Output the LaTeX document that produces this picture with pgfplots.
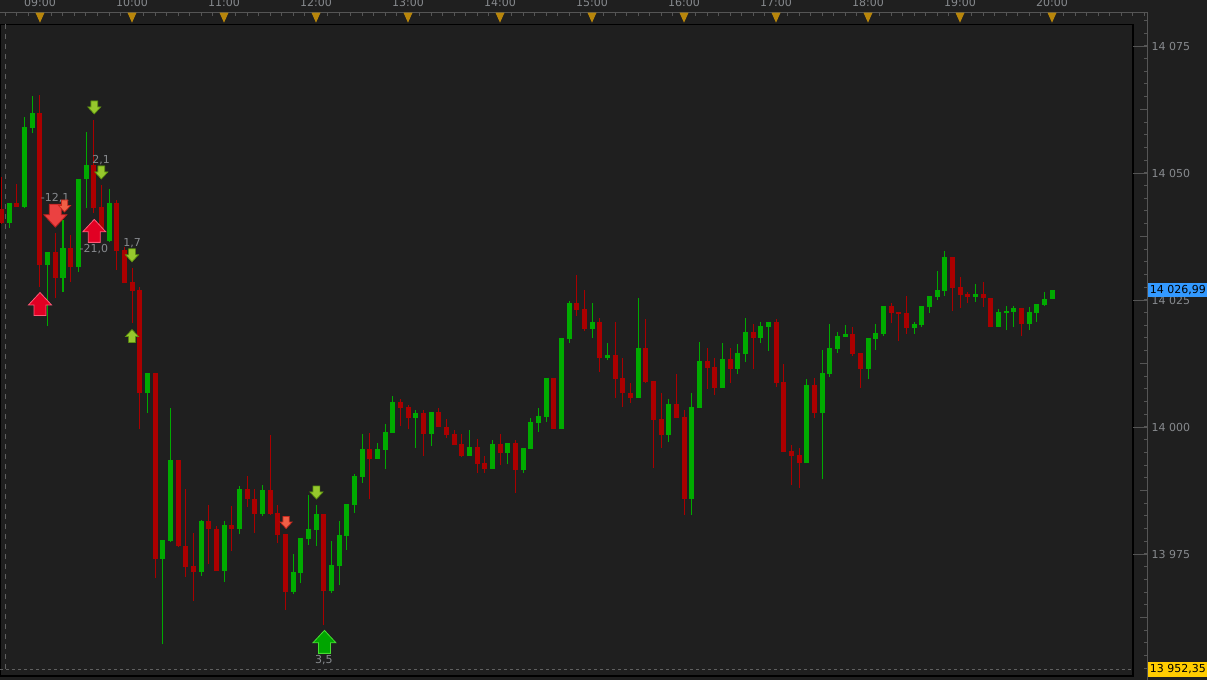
\documentclass[border=0pt]{standalone}
\usepackage{fontspec}
\setmainfont{DejaVu Sans}
\usepackage{pgfplots}
\usepackage{pgfplotstable}
\pgfplotsset{compat=1.18}
\definecolor{bg}{RGB}{31,31,31}
\definecolor{gcol}{RGB}{0,170,0}
\definecolor{rcol}{RGB}{170,0,0}
\definecolor{axgray}{RGB}{85,85,85}
\definecolor{dashgray}{RGB}{95,95,95}
\definecolor{lblgray}{RGB}{135,138,142}
\definecolor{tri}{RGB}{184,134,11}
\definecolor{pblue}{RGB}{51,153,255}
\definecolor{pyellow}{RGB}{255,204,0}
\definecolor{redUp}{RGB}{225,0,35}
\definecolor{redUpE}{RGB}{255,90,120}
\definecolor{redDn}{RGB}{235,65,65}
\definecolor{redDnE}{RGB}{190,30,30}
\definecolor{orA}{RGB}{240,95,70}
\definecolor{orAE}{RGB}{200,40,30}
\definecolor{lime}{RGB}{150,200,45}
\definecolor{limeE}{RGB}{95,150,15}
\definecolor{bigG}{RGB}{0,165,0}
\definecolor{bigGE}{RGB}{70,220,50}

\pgfdeclareplotmark{adown}{%
  \pgfpathmoveto{\pgfqpoint{-0.52\pgfplotmarksize}{\pgfplotmarksize}}%
  \pgfpathlineto{\pgfqpoint{0.52\pgfplotmarksize}{\pgfplotmarksize}}%
  \pgfpathlineto{\pgfqpoint{0.52\pgfplotmarksize}{0.08\pgfplotmarksize}}%
  \pgfpathlineto{\pgfqpoint{\pgfplotmarksize}{0.08\pgfplotmarksize}}%
  \pgfpathlineto{\pgfqpoint{0pt}{-\pgfplotmarksize}}%
  \pgfpathlineto{\pgfqpoint{-\pgfplotmarksize}{0.08\pgfplotmarksize}}%
  \pgfpathlineto{\pgfqpoint{-0.52\pgfplotmarksize}{0.08\pgfplotmarksize}}%
  \pgfpathclose
  \pgfusepathqfillstroke}
\pgfdeclareplotmark{aup}{%
  \pgfpathmoveto{\pgfqpoint{-0.52\pgfplotmarksize}{-\pgfplotmarksize}}%
  \pgfpathlineto{\pgfqpoint{0.52\pgfplotmarksize}{-\pgfplotmarksize}}%
  \pgfpathlineto{\pgfqpoint{0.52\pgfplotmarksize}{-0.08\pgfplotmarksize}}%
  \pgfpathlineto{\pgfqpoint{\pgfplotmarksize}{-0.08\pgfplotmarksize}}%
  \pgfpathlineto{\pgfqpoint{0pt}{\pgfplotmarksize}}%
  \pgfpathlineto{\pgfqpoint{-\pgfplotmarksize}{-0.08\pgfplotmarksize}}%
  \pgfpathlineto{\pgfqpoint{-0.52\pgfplotmarksize}{-0.08\pgfplotmarksize}}%
  \pgfpathclose
  \pgfusepathqfillstroke}
\pgfdeclareplotmark{tridown}{%
  \pgfpathmoveto{\pgfqpoint{-4.5pt}{5pt}}%
  \pgfpathlineto{\pgfqpoint{4.5pt}{5pt}}%
  \pgfpathlineto{\pgfqpoint{0pt}{-5pt}}%
  \pgfpathclose
  \pgfusepathqfill}

% k o h l c   (k = 5-minute bar index, 0 = 09:00)
\pgfplotstableread{
k o h l c
-4 14040.2 14044.0 14039.1 14044.0
-2 14043.4 14061.1 14043.1 14059.1
-1 14058.9 14065.2 14057.8 14061.8
1 14031.8 14034.4 14019.9 14034.4
3 14029.4 14040.7 14026.6 14035.2
5 14031.4 14048.8 14030.6 14048.8
6 14048.8 14058.1 14043.1 14051.6
9 14036.6 14046.9 14036.5 14044.0
14 14006.6 14010.6 14002.8 14010.6
16 13974.0 13977.8 13957.2 13977.8
17 13977.6 14003.7 13977.4 13993.5
21 13971.5 13981.7 13970.7 13981.5
24 13971.7 13981.5 13969.5 13980.7
26 13979.9 13988.4 13978.9 13987.8
29 13982.9 13988.6 13982.5 13987.6
33 13967.6 13975.0 13967.1 13971.5
34 13971.3 13978.1 13969.2 13978.1
35 13978.0 13986.6 13976.8 13979.9
36 13979.8 13984.6 13976.6 13982.9
38 13967.7 13977.6 13967.3 13972.8
39 13972.7 13981.5 13968.8 13978.7
40 13978.6 13984.8 13975.8 13984.8
41 13984.6 13990.7 13983.1 13990.4
42 13990.2 13998.6 13989.0 13995.7
44 13993.7 13996.8 13993.7 13995.7
45 13995.5 14000.6 13991.7 13999.0
46 13998.9 14006.0 13998.9 14004.9
49 14001.8 14003.3 13995.9 14002.8
51 13998.7 14003.0 13996.3 14003.0
56 13994.3 13999.4 13994.3 13996.1
59 13991.7 13997.4 13991.7 13996.7
61 13994.9 13996.9 13992.7 13996.9
63 13991.5 13995.9 13991.0 13995.9
64 13995.7 14001.8 13995.7 14001.0
65 14000.8 14003.7 13999.1 14002.2
66 14002.0 14009.6 14001.0 14009.6
68 13999.6 14017.5 13999.6 14017.5
69 14017.3 14024.8 14016.6 14024.4
72 14019.3 14024.4 14017.6 14020.7
74 14013.6 14016.5 14013.1 14014.2
78 14005.8 14025.3 14005.8 14015.6
82 13998.5 14005.5 13997.1 14004.5
85 13985.9 14006.6 13982.7 14003.9
86 14003.8 14016.7 14003.8 14013.0
89 14007.7 14016.5 14007.7 14013.4
91 14011.4 14016.3 14010.4 14014.6
92 14014.4 14021.4 14012.7 14018.7
94 14017.5 14020.7 14016.6 14019.9
95 14019.7 14020.7 14015.0 14020.7
100 13993.0 14009.4 13993.0 14008.3
102 14002.8 14015.2 13989.7 14010.6
103 14010.5 14020.3 14009.9 14015.6
104 14015.4 14018.6 14014.6 14017.9
105 14017.8 14020.1 14017.7 14018.3
108 14011.5 14017.5 14009.4 14017.5
109 14017.4 14020.3 14015.2 14018.5
110 14018.3 14023.8 14018.0 14023.8
114 14019.4 14020.7 14018.4 14020.3
115 14020.1 14023.8 14019.7 14023.8
116 14023.7 14025.8 14022.5 14025.8
117 14025.6 14030.7 14025.0 14027.0
118 14026.8 14034.6 14025.8 14033.5
122 14025.6 14028.1 14024.7 14026.2
125 14019.7 14023.2 14019.7 14022.6
126 14022.5 14023.8 14019.0 14022.9
127 14022.6 14023.8 14019.7 14023.4
129 14020.3 14023.6 14019.0 14022.6
130 14022.5 14024.2 14020.7 14024.2
131 14024.1 14026.6 14023.9 14025.2
132 14025.1 14027.0 14025.1 14026.99
}\greendata

\pgfplotstableread{
k o h l c
-5 14042.9 14049.3 14040.0 14040.1
-3 14044.0 14047.8 14043.4 14043.4
0 14061.8 14065.4 14027.6 14031.8
2 14034.4 14038.1 14025.3 14029.4
4 14035.2 14037.8 14028.6 14031.4
7 14051.6 14060.4 14042.1 14043.2
8 14043.4 14047.6 14038.4 14038.4
10 14044.0 14044.7 14030.9 14034.7
11 14034.8 14035.5 14028.4 14028.4
12 14028.5 14031.2 14020.4 14026.8
13 14027.0 14027.5 13999.7 14006.6
15 14010.6 14010.6 13970.2 13974.0
18 13993.5 13993.5 13976.4 13976.5
19 13976.5 13987.7 13970.5 13972.5
20 13972.6 13979.1 13965.8 13971.5
22 13981.5 13984.6 13973.0 13979.9
23 13979.9 13980.6 13971.7 13971.7
25 13980.7 13984.4 13975.5 13979.9
27 13987.8 13990.4 13984.3 13985.8
28 13985.8 13987.7 13979.1 13982.9
30 13987.6 13998.4 13982.7 13982.9
31 13983.0 13984.6 13977.1 13978.7
32 13978.9 13978.9 13964.0 13967.6
37 13982.9 13982.9 13961.0 13967.8
43 13995.7 13998.8 13985.8 13993.7
47 14004.9 14005.5 14000.1 14003.8
48 14003.9 14004.3 13999.7 14001.8
50 14002.8 14003.3 13994.3 13998.7
52 14003.0 14003.8 13999.9 13999.9
53 14000.0 14001.6 13997.9 13998.5
54 13998.6 13999.5 13996.5 13996.5
55 13996.7 13998.6 13994.0 13994.3
57 13996.1 13997.6 13991.0 13992.8
58 13992.9 13994.3 13991.0 13991.7
60 13996.7 13998.6 13992.5 13994.9
62 13996.9 13997.4 13987.1 13991.5
67 14009.6 14009.6 13999.6 13999.6
70 14024.4 14029.9 14021.9 14023.1
71 14023.2 14027.0 14018.8 14019.3
73 14020.7 14021.4 14010.9 14013.6
75 14014.1 14020.7 14005.8 14009.5
76 14009.6 14013.5 14004.0 14006.6
77 14006.7 14008.6 14004.8 14005.8
79 14015.6 14021.2 14008.7 14008.9
80 14009.1 14009.1 13992.0 14001.4
81 14001.6 14006.6 13995.9 13998.5
83 14004.5 14010.4 14001.8 14001.8
84 14002.0 14003.3 13982.7 13985.9
87 14013.0 14015.5 14007.5 14011.7
88 14011.8 14013.5 14006.3 14007.7
90 14013.4 14015.5 14008.7 14011.4
93 14018.7 14020.2 14011.4 14017.5
96 14020.7 14021.2 14007.9 14008.7
97 14008.9 14012.4 13995.1 13995.1
98 13995.3 13996.5 13988.6 13994.3
99 13994.5 13995.9 13988.0 13993.0
101 14008.3 14009.6 14001.7 14002.8
106 14018.3 14019.6 14014.0 14014.4
107 14014.6 14014.6 14007.7 14011.5
111 14023.8 14024.4 14020.5 14022.5
112 14022.6 14022.6 14017.0 14022.3
113 14022.4 14025.8 14018.4 14019.4
119 14033.5 14033.5 14022.9 14027.4
120 14027.6 14029.5 14023.5 14026.0
121 14026.2 14026.6 14024.5 14025.6
123 14026.2 14028.5 14023.7 14025.3
124 14025.4 14025.4 14019.7 14019.7
128 14023.4 14023.4 14018.0 14020.3
}\reddata

\tikzset{lbl/.style={font=\fontsize{11}{13}\selectfont, text=lblgray, inner sep=0pt}}
\pgfplotsset{candle/.style={draw=none, mark=none, forget plot,
  error bars/y dir=plus, error bars/y explicit, error bars/error mark=none}}

\begin{document}
\begin{tikzpicture}[x=1pt,y=1pt]
\useasboundingbox (0,0) rectangle (1207,680);
\clip (0,0) rectangle (1207,680);
\fill[bg] (0,0) rectangle (1207,680);

% ---------- main price panel ----------
\begin{axis}[
  at={(0pt,4pt)}, anchor=south west, scale only axis,
  width=1133pt, height=651.5pt,
  xmin=-5.217, xmax=142.56, ymin=13950.98, ymax=14079.23,
  xtick=\empty, ytick=\empty,
  axis line style={black, line width=1.2pt},
]
\addplot[dashgray, line width=1pt, dash pattern=on 5pt off 5pt, forget plot]
  coordinates {(-4.47,14079.23) (-4.47,13952.35)};
\addplot[dashgray, line width=1pt, dash pattern=on 3pt off 3pt, forget plot]
  coordinates {(-5.217,13952.35) (142.56,13952.35)};

% wicks
\addplot[candle, error bars/error bar style={draw=gcol, line width=1pt}]
  table[x=k, y=l, y error plus expr=\thisrow{h}-\thisrow{l}] {\greendata};
\addplot[candle, error bars/error bar style={draw=rcol, line width=1pt}]
  table[x=k, y=l, y error plus expr=\thisrow{h}-\thisrow{l}] {\reddata};
% bodies
\addplot[candle, error bars/error bar style={draw=gcol, line width=5pt}]
  table[x=k, y=o, y error plus expr=\thisrow{c}-\thisrow{o}] {\greendata};
\addplot[candle, error bars/error bar style={draw=rcol, line width=5pt}]
  table[x=k, y=c, y error plus expr=\thisrow{o}-\thisrow{c}] {\reddata};

% signal arrows
\addplot[only marks, mark=aup, mark size=11.5pt,
  mark options={fill=redUp, draw=redUpE, line width=0.8pt}]
  coordinates {(0,14024.2) (7.08,14038.6)};
\addplot[only marks, mark=adown, mark size=11.5pt,
  mark options={fill=redDn, draw=redDnE, line width=0.8pt}]
  coordinates {(2,14041.6)};
\addplot[only marks, mark=adown, mark size=6pt,
  mark options={fill=orA, draw=orAE, line width=0.7pt}]
  coordinates {(3.2,14043.5) (32.1,13981.2)};
\addplot[only marks, mark=adown, mark size=6.5pt,
  mark options={fill=lime, draw=limeE, line width=0.7pt}]
  coordinates {(7.08,14062.9) (8,14050.1) (12,14033.8) (36.06,13987.1)};
\addplot[only marks, mark=aup, mark size=6.5pt,
  mark options={fill=lime, draw=limeE, line width=0.7pt}]
  coordinates {(12,14017.9)};
\addplot[only marks, mark=aup, mark size=11.5pt,
  mark options={fill=bigG, draw=bigGE, line width=0.8pt}]
  coordinates {(37.1,13957.7)};

\node[lbl] at (axis cs:1.96,14045.1) {-12,1};
\node[lbl] at (axis cs:7.04,14035.0) {-21,0};
\node[lbl] at (axis cs:7.96,14052.6) {2,1};
\node[lbl] at (axis cs:12,14036.2) {1,7};
\node[lbl] at (axis cs:37.04,13954.1) {3,5};
\end{axis}

% ---------- time axis on top ----------
\begin{axis}[
  at={(0pt,655.5pt)}, anchor=south west, scale only axis,
  width=1147.7pt, height=11.8pt,
  xmin=-5.217, xmax=144.48, ymin=0, ymax=11.8,
  axis x line*=top, axis y line=none, ytick=\empty,
  xtick pos=right, xticklabel pos=right,
  xtick={0,12,...,132},
  xticklabels={09:00,10:00,11:00,12:00,13:00,14:00,15:00,16:00,17:00,18:00,19:00,20:00},
  minor xtick={-4.5,-3,...,144},
  tick align=inside, major tick length=0pt, minor tick length=3.5pt,
  minor tick style={axgray, line width=1pt},
  axis line style={axgray, line width=1pt},
  xticklabel style={anchor=center, yshift=9.7pt, font=\fontsize{11}{13}\selectfont, text=lblgray},
  clip=false,
]
\addplot[only marks, mark=tridown, color=tri]
  coordinates {(0,6.8)(12,6.8)(24,6.8)(36,6.8)(48,6.8)(60,6.8)(72,6.8)(84,6.8)(96,6.8)(108,6.8)(120,6.8)(132,6.8)};
\end{axis}

% ---------- price scale on the right ----------
\begin{axis}[
  at={(1133pt,0pt)}, anchor=south west, scale only axis,
  width=14.7pt, height=667.3pt,
  xmin=0, xmax=1, ymin=13950.20, ymax=14081.56,
  axis y line*=right, axis x line=none, xtick=\empty,
  ytick pos=right, yticklabel pos=right,
  ytick={13975,14000,14025,14050,14075},
  yticklabels={13 975,14 000,14 025,14 050,14 075},
  minor ytick={13952.5,13955,...,14080},
  extra y ticks={13962.5,13987.5,14012.5,14037.5,14062.5},
  extra y tick labels={},
  extra y tick style={major tick length=8pt},
  tick align=inside, major tick length=14.7pt, minor tick length=4pt,
  major tick style={axgray, line width=1pt},
  minor tick style={axgray, line width=1pt},
  axis line style={axgray, line width=1pt},
  yticklabel style={anchor=west, xshift=0.5pt, font=\fontsize{11}{13}\selectfont, text=lblgray},
  clip=false,
]
\node[fill=pblue, text=black, anchor=west, inner xsep=2pt, inner ysep=0pt,
  minimum height=14pt, font=\fontsize{11}{13}\selectfont]
  at (axis cs:1,14026.99) {14 026,99};
\node[fill=pyellow, text=black, anchor=west, inner xsep=2pt, inner ysep=0pt,
  minimum height=15pt, font=\fontsize{11}{13}\selectfont]
  at (axis cs:1,13952.35) {13 952,35};
\end{axis}
\end{tikzpicture}
\end{document}
